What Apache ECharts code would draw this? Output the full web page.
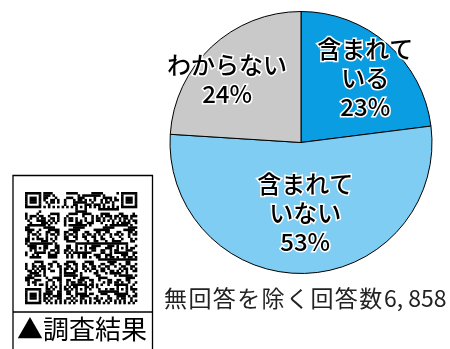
<!DOCTYPE html>
<html><head><meta charset="utf-8">
<script src="https://cdn.jsdelivr.net/npm/echarts@6/dist/echarts.min.js"></script>
<style>html,body{margin:0;padding:0;background:#fff}#c{width:450px;height:349px}</style>
</head><body><div id="c"></div>
<script>
// ---- data ----
const categories = ['含まれている', '含まれていない', 'わからない'];
const labelTexts = ['含まれて\nいる', '含まれて\nいない', 'わからない'];
const values = [23, 53, 24];
const notePrefix = '無回答を除く回答数';
const noteCount = '6, 858';
const qrCaption = '▲調査結果';

// ---- styles ----
const colors = ['#0a9de2', '#7fcdf2', '#c9c9c9'];
const labelShift = [[19, -13], [2, 2], [-27, -13]];
const FONT = '"Noto Sans CJK JP", "Noto Sans", sans-serif';

// QR-like decorative pattern (version 8 size: 49 modules)
function qrMatrix(n) {
  const m = [];
  for (let r = 0; r < n; r++) {
    m.push([]);
    for (let c = 0; c < n; c++) {
      const h = ((r * 73 + c * 151 + r * c * 29 + (r ^ c) * 13) % 11);
      m[r].push(h < 5 ? 1 : 0);
    }
  }
  function finder(r0, c0) {
    for (let r = -1; r <= 7; r++) for (let c = -1; c <= 7; c++) {
      const rr = r0 + r, cc = c0 + c;
      if (rr < 0 || cc < 0 || rr >= n || cc >= n) continue;
      let v = 0;
      if (r >= 0 && r <= 6 && c >= 0 && c <= 6) {
        if (r === 0 || r === 6 || c === 0 || c === 6) v = 1;
        else if (r >= 2 && r <= 4 && c >= 2 && c <= 4) v = 1;
      }
      m[rr][cc] = v;
    }
  }
  finder(0, 0); finder(0, n - 7); finder(n - 7, 0);
  for (let i = 8; i < n - 8; i++) { m[6][i] = i % 2 === 0 ? 1 : 0; m[i][6] = i % 2 === 0 ? 1 : 0; }
  const al = [6, 24, 42];
  al.forEach(ar => al.forEach(ac => {
    if ((ar === 6 && ac === 6) || (ar === 6 && ac === 42) || (ar === 42 && ac === 6)) return;
    for (let r = -2; r <= 2; r++) for (let c = -2; c <= 2; c++) {
      m[ar + r][ac + c] = (Math.max(Math.abs(r), Math.abs(c)) !== 1) ? 1 : 0;
    }
  }));
  return m;
}

const qrN = 49, qrX = 25, qrY = 192, qrSize = 112;
const mod = qrSize / qrN;
const qm = qrMatrix(qrN);
const qrRects = [];
for (let r = 0; r < qrN; r++) {
  let c = 0;
  while (c < qrN) {
    if (qm[r][c]) {
      let s = c;
      while (c < qrN && qm[r][c]) c++;
      qrRects.push({ type: 'rect', shape: { x: qrX + s * mod, y: qrY + r * mod, width: (c - s) * mod + 0.3, height: mod + 0.3 }, style: { fill: '#000' } });
    } else c++;
  }
}

// note text laid out with wide character pitch
const noteEls = Array.from(notePrefix).map((ch, i) => ({
  type: 'text', x: 175.5 + i * 24.4, y: 298,
  style: { text: ch, font: '23px ' + FONT, fill: '#222', textAlign: 'center', textVerticalAlign: 'middle' }
}));
noteEls.push({ type: 'text', x: 384, y: 298, style: { text: noteCount, font: '23px ' + FONT, fill: '#222', textAlign: 'left', textVerticalAlign: 'middle' } });

const chart = echarts.init(document.getElementById('c'), null, { renderer: 'canvas' });
chart.setOption({
  animation: false,
  backgroundColor: '#fff',
  color: colors,
  series: [{
    type: 'pie',
    center: [301, 142.5],
    radius: 131,
    startAngle: 90,
    clockwise: true,
    avoidLabelOverlap: false,
    itemStyle: { borderColor: '#000', borderWidth: 1 },
    label: {
      show: true,
      position: 'inside',
      formatter: p => labelTexts[p.dataIndex] + '\n' + p.value + '%',
      fontFamily: FONT,
      fontSize: 24,
      fontWeight: 500,
      lineHeight: 29,
      color: '#000',
      textBorderColor: '#fff',
      textBorderWidth: 3,
      align: 'center'
    },
    labelLine: { show: false },
    labelLayout: p => ({ dx: labelShift[p.dataIndex][0], dy: labelShift[p.dataIndex][1] }),
    emphasis: { disabled: true },
    data: categories.map((n, i) => ({ name: n, value: values[i] }))
  }],
  graphic: [
    { type: 'polyline', shape: { points: [[13, 349], [13, 175.5], [152.5, 175.5], [152.5, 349]] }, style: { stroke: '#000', lineWidth: 1.3, fill: null } },
    { type: 'line', shape: { x1: 13, y1: 312, x2: 152.5, y2: 312 }, style: { stroke: '#000', lineWidth: 1.3 } },
    { type: 'group', children: qrRects },
    { type: 'text', x: 82, y: 329, style: { text: qrCaption, font: '26px ' + FONT, fill: '#000', textAlign: 'center', textVerticalAlign: 'middle' } }
  ].concat(noteEls)
});
</script></body></html>
